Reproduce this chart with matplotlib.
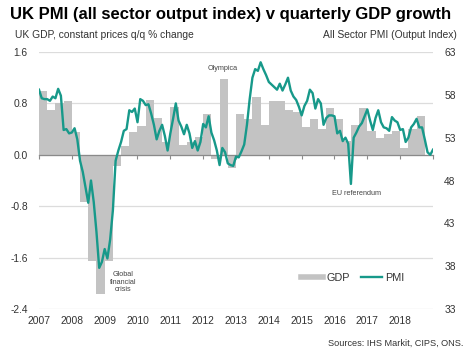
import numpy as np
import matplotlib
matplotlib.use('Agg')
from matplotlib import pyplot as plt
from matplotlib.lines import Line2D

plt.rcParams['font.family'] = ['Liberation Sans', 'DejaVu Sans']

# GDP q/q % change, 2007 Q1 - 2018 Q3
gdp = [1.0, 0.7, 0.8, 0.83,
       0.35, -0.74, -1.65, -2.17,
       -1.65, -0.17, 0.14, 0.35,
       0.45, 0.85, 0.58, 0.2,
       0.75, 0.15, 0.2, 0.27,
       0.64, -0.06, 1.18, -0.2,
       0.64, 0.55, 0.9, 0.46,
       0.83, 0.83, 0.7, 0.67,
       0.44, 0.56, 0.4, 0.73,
       0.55, 0.22, 0.47, 0.73,
       0.37, 0.26, 0.33, 0.37,
       0.1, 0.4, 0.6]

# all sector PMI, monthly Jan 2007 - Jan 2019
pmi = [58.6, 57.6, 57.5, 57.5, 57.3, 57.8, 57.6, 58.7, 57.9, 53.9, 54.0, 53.5,
       53.6, 54.1, 52.8, 50.3, 49.0, 47.2, 45.4, 48.0, 45.5, 42.0, 37.8, 38.5,
       40.0, 38.9, 41.1, 44.5, 50.3, 51.5, 52.5, 53.8, 54.0, 56.2, 56.0, 56.4,
       54.8, 57.5, 57.3, 56.8, 56.9, 55.8, 54.5, 52.8, 53.8, 54.5, 53.2, 51.5,
       53.5, 55.2, 57.0, 55.0, 54.3, 53.4, 54.5, 53.5, 51.8, 52.6, 51.5, 52.5,
       54.6, 54.2, 55.5, 53.6, 52.7, 51.5, 49.8, 51.8, 51.3, 50.0, 49.8, 49.7,
       50.8, 50.7, 51.4, 52.2, 54.5, 57.5, 60.0, 61.0, 60.8, 61.8, 61.0, 60.3,
       59.5, 59.2, 58.9, 58.6, 59.3, 58.5, 59.2, 60.0, 58.5, 57.8, 57.4, 56.6,
       55.6, 56.7, 57.3, 58.6, 58.2, 56.4, 57.5, 57.0, 54.5, 55.3, 55.6, 55.6,
       55.5, 53.5, 53.8, 52.6, 53.0, 52.3, 47.6, 53.0, 53.6, 54.3, 54.7, 55.5,
       56.3, 55.0, 53.9, 55.3, 56.2, 54.8, 54.2, 54.1, 53.8, 55.4, 55.0, 54.8,
       53.9, 54.0, 52.5, 53.0, 54.2, 54.6, 55.2, 54.2, 54.2, 52.8, 51.3, 51.0,
       51.6]

years = list(range(2007, 2020))
year_labels = [str(y) for y in range(2007, 2019)] + ['']
left_ticks = [-2.4, -1.6, -0.8, 0.0, 0.8, 1.6]
right_ticks = [33, 38, 43, 48, 53, 58, 63]

gdp_x = 2007 + (np.arange(len(gdp)) + 0.5) / 4
pmi_x = 2007 + np.arange(len(pmi)) / 12

teal = '#17998a'
grey = '#c3c3c3'
txt = '#333333'

fig = plt.figure(figsize=(4.7, 3.59), dpi=100)
ax = fig.add_axes([39 / 470, 1 - 309 / 359, (433 - 39) / 470, (309 - 52) / 359])
ax2 = ax.twinx()

ax.bar(gdp_x, gdp, width=0.25, color=grey, zorder=2)
ax2.plot(pmi_x, pmi, color=teal, lw=1.7, zorder=3)

ax.set_xlim(2007, 2019)
ax.set_ylim(-2.4, 1.6)
ax2.set_ylim(33, 63)

ax.set_yticks(left_ticks)
ax.set_yticklabels(['%.1f' % v for v in left_ticks])
ax2.set_yticks(right_ticks)
ax.grid(axis='y', color='#dcdcdc', lw=0.9, zorder=0)
ax.set_axisbelow(True)

for a in (ax, ax2):
    for s in a.spines.values():
        s.set_visible(False)

# zero line with year ticks
ax.spines['bottom'].set_visible(True)
ax.spines['bottom'].set_position(('data', 0))
ax.spines['bottom'].set_color('#8a8a8a')
ax.spines['bottom'].set_linewidth(0.9)
ax.spines['bottom'].set_zorder(4)
ax.set_xticks(years)
ax.tick_params(axis='x', direction='out', length=3, color='#8a8a8a', labelbottom=False)

sec = ax.secondary_xaxis(0)
sec.set_xticks(years)
sec.set_xticklabels(year_labels)
sec.tick_params(length=0, pad=5, labelsize=7.4, labelcolor=txt)
for s in sec.spines.values():
    s.set_visible(False)

ax.tick_params(axis='y', length=0, pad=8, labelsize=7.4, labelcolor=txt)
ax2.tick_params(axis='y', length=0, pad=8, labelsize=7.4, labelcolor=txt)

fig.text(10 / 470, 1 - 15 / 359, 'UK PMI (all sector output index) v quarterly GDP growth',
         fontsize=12, fontweight='bold', ha='left', va='center', color='black')
fig.text(15 / 470, 1 - 35 / 359, 'UK GDP, constant prices q/q % change',
         fontsize=7.4, ha='left', va='center', color=txt)
fig.text(457 / 470, 1 - 35 / 359, 'All Sector PMI (Output Index)',
         fontsize=7.4, ha='right', va='center', color=txt)
fig.text(463 / 470, 1 - 343 / 359, 'Sources: IHS Markit, CIPS, ONS.',
         fontsize=6.6, ha='right', va='center', color=txt)

fig.text(223 / 470, 1 - 68 / 359, 'Olympica', fontsize=5.2, ha='center', va='center', color='#444444')
fig.text(357 / 470, 1 - 194 / 359, 'EU referendum', fontsize=5.2, ha='center', va='center', color='#444444')
fig.text(123 / 470, 1 - 282 / 359, 'Global\nfinancial\ncrisis', fontsize=5.2, ha='center', va='center',
         color='#444444', linespacing=1.1)

handles = [Line2D([], [], color=grey, lw=4), Line2D([], [], color=teal, lw=1.7)]
fig.legend(handles, ['GDP', 'PMI'], loc='center', bbox_to_anchor=(353 / 470, 1 - 278 / 359),
           ncol=2, frameon=False, fontsize=7.8, handlelength=2.0, handletextpad=0.3,
           columnspacing=1.0, labelcolor=txt)

fig.savefig('out.png', dpi=100)
